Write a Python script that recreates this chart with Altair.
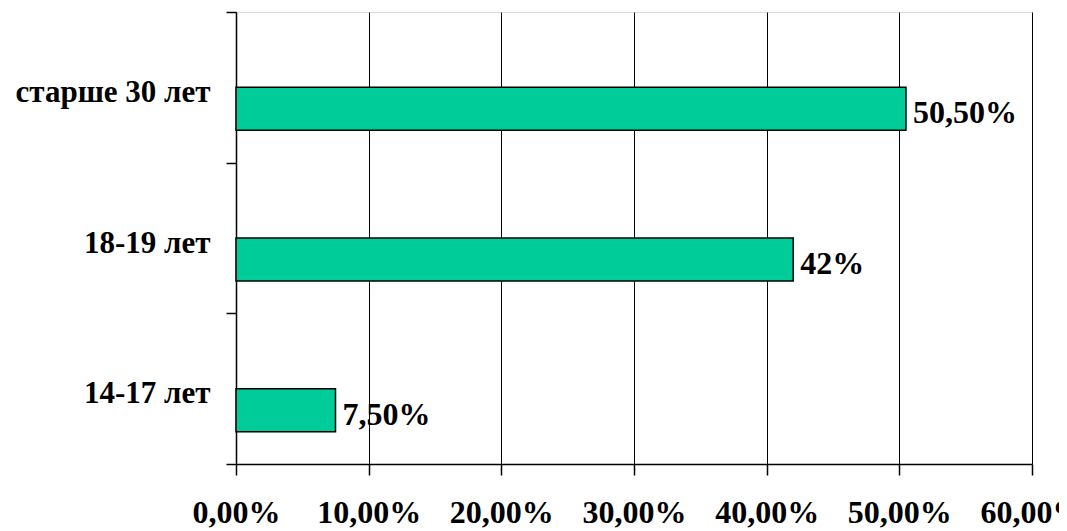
import altair as alt
import pandas as pd

categories = ["старше 30 лет", "18-19 лет", "14-17 лет"]
values = [0.505, 0.42, 0.075]
value_labels = ["50,50%", "42%", "7,50%"]
x_ticks = [0, 0.1, 0.2, 0.3, 0.4, 0.5, 0.6]

df = pd.DataFrame({"cat": categories, "val": values, "lab": value_labels})

FONT = "Liberation Serif"
FS = 32

y_enc = alt.Y(
    "cat:N",
    sort=categories,
    scale=alt.Scale(paddingInner=0, paddingOuter=0),
    axis=alt.Axis(
        title=None,
        tickBand="extent",
        ticks=True,
        tickSize=10,
        tickColor="black",
        tickWidth=1.5,
        domainColor="black",
        domainWidth=1.5,
        labelFont=FONT,
        labelFontSize=31,
        labelFontWeight="bold",
        labelColor="black",
        labelPadding=16,
        labelOffset=5,
        labelBaseline="middle",
        grid=False,
        labelLimit=400,
    ),
)

x_enc = alt.X(
    "val:Q",
    scale=alt.Scale(domain=[0, 0.6], nice=False, zero=True),
    axis=alt.Axis(
        title=None,
        values=x_ticks,
        labelExpr="replace(format(datum.value, '.2%'), '.', ',')",
        tickSize=11,
        tickColor="black",
        tickWidth=1.5,
        domainColor="black",
        domainWidth=1.5,
        grid=True,
        gridColor="black",
        gridWidth=1,
        gridOpacity=1,
        labelFont=FONT,
        labelFontSize=FS,
        labelFontWeight="bold",
        labelColor="black",
        labelPadding=22,
        labelBaseline="top",
        labelFlush=False,
        labelOverlap=False,
    ),
)

bars = alt.Chart(df).mark_bar(
    height=43,
    yOffset=21.5,
    color="#00CC99",
    stroke="black",
    strokeWidth=1.5,
).encode(x=x_enc, y=y_enc)

text = alt.Chart(df).mark_text(
    align="left",
    baseline="middle",
    dx=7,
    dy=26,
    font=FONT,
    fontSize=FS,
    fontWeight="bold",
    color="black",
).encode(x="val:Q", y=alt.Y("cat:N", sort=categories), text="lab:N")

chart = (
    alt.layer(bars, text)
    .properties(
        width=796,
        height=452,
        padding={"left": 228, "top": 4, "right": 27, "bottom": 67},
        autosize=alt.AutoSizeParams(type="none"),
    )
    .configure_view(stroke="black", strokeWidth=1.5)
    .configure(background="white")
)

chart.save("out.html", embed_options={"renderer": "svg", "actions": False})
